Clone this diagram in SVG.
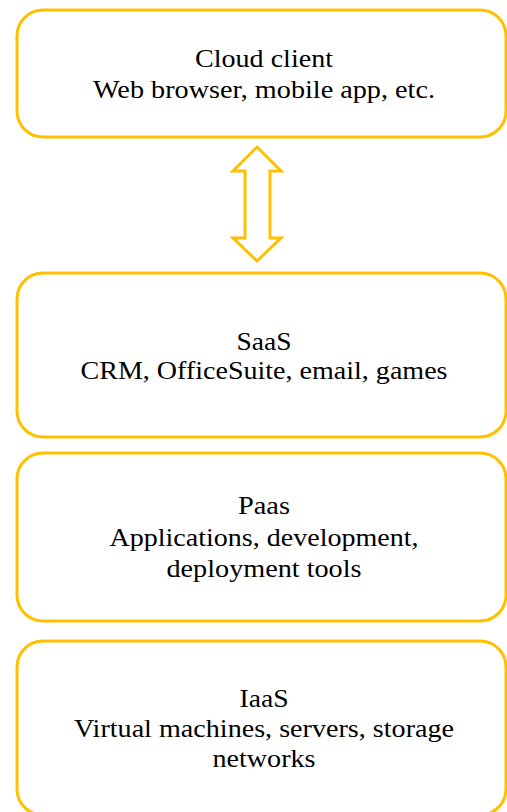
<svg xmlns="http://www.w3.org/2000/svg" width="507" height="812" viewBox="0 0 507 812">
<style>
.box{fill:#fff;stroke:#FFC000;stroke-width:3}
.t{font-family:"Liberation Serif","Times New Roman",serif;font-size:25px;fill:#000;text-anchor:middle}
.conn{fill:#fff;stroke:#FFC000;stroke-width:3;stroke-linejoin:miter}
</style>
<rect width="507" height="812" fill="#fff"/>
<g id="client">
<rect class="box" x="17" y="10" width="489" height="127" rx="26"/>
<text class="t" x="264" y="67" textLength="138" lengthAdjust="spacingAndGlyphs">Cloud client</text>
<text class="t" x="264" y="98" textLength="342" lengthAdjust="spacingAndGlyphs">Web browser, mobile app, etc.</text>
</g>
<g id="connectors">
<polygon class="conn" points="257,147 281,171 270,171 270,238 281,238 257,261 233,238 245,238 245,171 233,171"/>
</g>
<g id="saas">
<rect class="box" x="17" y="273" width="489" height="164" rx="26"/>
<text class="t" x="264" y="350" textLength="55" lengthAdjust="spacingAndGlyphs">SaaS</text>
<text class="t" x="264" y="379" textLength="367" lengthAdjust="spacingAndGlyphs">CRM, OfficeSuite, email, games</text>
</g>
<g id="paas">
<rect class="box" x="17" y="453" width="489" height="168" rx="26"/>
<text class="t" x="264" y="514" textLength="52" lengthAdjust="spacingAndGlyphs">Paas</text>
<text class="t" x="264" y="546" textLength="309" lengthAdjust="spacingAndGlyphs">Applications, development,</text>
<text class="t" x="264" y="577" textLength="195" lengthAdjust="spacingAndGlyphs">deployment tools</text>
</g>
<g id="iaas">
<rect class="box" x="17" y="641" width="489" height="174" rx="26"/>
<text class="t" x="264" y="707" textLength="49" lengthAdjust="spacingAndGlyphs">IaaS</text>
<text class="t" x="264" y="737" textLength="380" lengthAdjust="spacingAndGlyphs">Virtual machines, servers, storage</text>
<text class="t" x="264" y="767" textLength="103" lengthAdjust="spacingAndGlyphs">networks</text>
</g>
</svg>
